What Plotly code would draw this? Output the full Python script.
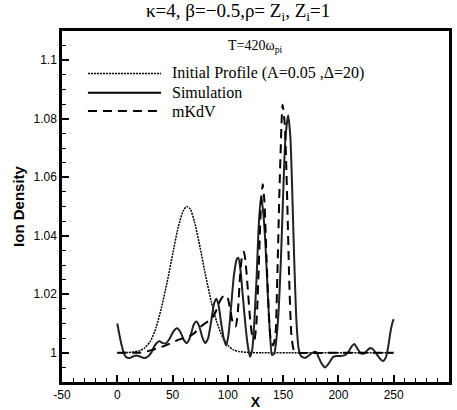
import plotly.graph_objects as go

# ---- data ----
init_x = [0, 10, 15, 20, 25, 30, 35, 40, 45, 50, 55, 60, 63, 66, 70, 75, 80, 85, 90, 95,
          100, 105, 110, 120, 130, 250]
init_y = [1.0000, 1.0001, 1.0003, 1.0007, 1.0017, 1.0040, 1.0085, 1.0155, 1.0240, 1.0335,
          1.0428, 1.0488, 1.0500, 1.0492, 1.0445, 1.0358, 1.0262, 1.0175, 1.0105, 1.0055,
          1.0025, 1.0010, 1.0004, 1.0001, 1.0000, 1.0000]

sim_x = [0, 2, 4, 6, 8, 11, 14, 17, 20, 23, 25, 28, 31, 34, 38, 41, 44, 47, 51, 54, 57, 60,
         63, 66, 69, 71.5, 74, 77, 79.5, 82, 85, 87.5, 89.5, 91.5, 94, 96.5, 98.5, 100.5,
         103, 105.5, 108, 109.5, 111.5, 113.5, 116, 118, 120, 122, 124, 126, 128, 130, 132,
         134, 136, 138, 140, 142, 144, 146, 148, 150, 152, 154.5, 156.5, 158, 160, 162, 164,
         166, 168, 170.5, 174, 178, 180, 182, 185, 188, 191, 195, 198, 202, 206, 209, 212,
         214.5, 217, 220, 223, 226, 229, 232, 235, 238, 240.5, 243, 245, 247, 249, 250]
sim_y = [1.0100, 1.0060, 1.0025, 0.9998, 0.9985, 0.9982, 0.9987, 0.9991, 0.9988, 0.9983,
         0.9982, 0.9988, 1.0002, 1.0025, 1.0039, 1.0033, 1.0032, 1.0046, 1.0074, 1.0084,
         1.0072, 1.0045, 1.0033, 1.0055, 1.0095, 1.0107, 1.0092, 1.0052, 1.0033, 1.0048,
         1.0110, 1.0168, 1.0185, 1.0165, 1.0100, 1.0045, 1.0025, 1.0060, 1.0160, 1.0265,
         1.0320, 1.0325, 1.0280, 1.0195, 1.0090, 1.0025, 0.9986, 1.0010, 1.0110, 1.0260,
         1.0440, 1.0535, 1.0480, 1.0370, 1.0210, 1.0070, 0.9992, 0.9998, 1.0050, 1.0150,
         1.0320, 1.0540, 1.0730, 1.0812, 1.0740, 1.0580, 1.0320, 1.0110, 1.0015, 0.9990,
         0.9984, 0.9983, 0.9993, 1.0003, 1.0002, 0.9985, 0.9962, 0.9950, 0.9962, 0.9985,
         0.9989, 0.9989, 0.9992, 1.0003, 1.0022, 1.0030, 1.0015, 0.9999, 0.9997, 1.0008,
         1.0016, 1.0009, 0.9993, 0.9978, 0.9972, 0.9985, 1.0020, 1.0070, 1.0105, 1.0115]

mkdv_x = [0, 10, 20, 25, 30, 35, 40, 45, 50, 55, 60, 65, 70, 75, 80, 85, 89, 92, 95, 97.5,
          100, 102.5, 105, 107, 109, 111, 113, 114.5, 116, 118, 120, 122, 124, 126, 128, 130,
          131.5, 133, 135, 137, 139, 141, 143, 145, 147, 149.5, 151.5, 153.5, 155.5, 157.5,
          160, 163, 200, 250]
mkdv_y = [1.0000, 1.0000, 1.0000, 1.0003, 1.0008, 1.0014, 1.0020, 1.0027, 1.0036, 1.0044,
          1.0050, 1.0056, 1.0068, 1.0088, 1.0102, 1.0115, 1.0140, 1.0170, 1.0190, 1.0198,
          1.0185, 1.0140, 1.0095, 1.0090, 1.0140, 1.0260, 1.0335, 1.0345, 1.0310, 1.0220,
          1.0120, 1.0060, 1.0045, 1.0110, 1.0300, 1.0510, 1.0576, 1.0520, 1.0320, 1.0140,
          1.0040, 1.0025, 1.0060, 1.0300, 1.0600, 1.0848, 1.0780, 1.0550, 1.0250, 1.0060,
          1.0005, 1.0000, 1.0000, 1.0000]

x_tick_vals = [-50, 0, 50, 100, 150, 200, 250, 300]
x_tick_text = ["-50", "0", "50", "100", "150", "200", "250", "300"]
y_tick_vals = [1.0, 1.02, 1.04, 1.06, 1.08, 1.1]
y_tick_text = ["1", "1.02", "1.04", "1.06", "1.08", "1.1"]

legend_names = ["Initial Profile (A=0.05 ,Δ=20)", "Simulation", "mKdV"]
title_text = "κ=4, β=−0.5,ρ= Z<sub>i</sub>, Z<sub>i</sub>=1"
time_text = "T=420ω<sub>pi</sub>"
x_title = "X"
y_title = "Ion Density"

# ---- styles ----
SERIF = "Liberation Serif"
SANS = "Liberation Sans"
styles = [
    dict(color="black", width=1.5, dash="2px,1px"),
    dict(color="#222222", width=2.0, dash="solid"),
    dict(color="black", width=2.0, dash="9px,6px"),
]

fig = go.Figure()
series = [(init_x, init_y), (sim_x, sim_y), (mkdv_x, mkdv_y)]
for (xs, ys), name, st in zip(series, legend_names, styles):
    fig.add_trace(go.Scatter(x=xs, y=ys, mode="lines", name=name,
                             line=dict(shape="spline", smoothing=0.6, **st),
                             showlegend=False))

# manual legend (long line samples like the reference)
leg_y = [0.879, 0.824, 0.772]
for name, st, yy in zip(legend_names, styles, leg_y):
    fig.add_shape(type="line", xref="paper", yref="paper", x0=0.067, x1=0.256,
                  y0=yy, y1=yy, line=dict(color="black", width=st["width"], dash=st["dash"]))
    fig.add_annotation(xref="paper", yref="paper", x=0.278, y=yy, text=name,
                       showarrow=False, xanchor="left", yanchor="middle",
                       font=dict(family=SERIF, size=16, color="black"))

fig.add_annotation(xref="paper", yref="paper", x=0.455, y=1.054, text=title_text,
                   showarrow=False, xanchor="center", yanchor="middle",
                   font=dict(family=SERIF, size=19, color="black"))
fig.add_annotation(xref="paper", yref="paper", x=0.5, y=0.955, text=time_text,
                   showarrow=False, xanchor="center", yanchor="middle",
                   font=dict(family=SERIF, size=14, color="black"))

axis_common = dict(showline=True, linecolor="black", linewidth=2.5, mirror=True,
                   ticks="inside", ticklen=7, tickwidth=1.5, tickcolor="black",
                   showgrid=False, zeroline=False, automargin=False,
                   tickfont=dict(family=SANS, size=12, color="black"))

fig.update_xaxes(range=[-50, 300], tickmode="array", tickvals=x_tick_vals,
                 ticktext=x_tick_text,
                 minor=dict(ticks="inside", ticklen=4, tickwidth=1.2, tickcolor="black",
                            dtick=10, tick0=0, showgrid=False),
                 title=dict(text="<b>" + x_title + "</b>", standoff=0,
                            font=dict(family=SANS, size=14, color="black")),
                 **axis_common)
fig.update_yaxes(range=[0.99, 1.11], tickmode="array", tickvals=y_tick_vals,
                 ticktext=y_tick_text,
                 minor=dict(ticks="inside", ticklen=4, tickwidth=1.2, tickcolor="black",
                            dtick=0.005, tick0=1.0, showgrid=False),
                 title=dict(text="<b>" + y_title + "</b>", standoff=6,
                            font=dict(family=SANS, size=15, color="black")),
                 **axis_common)

fig.update_layout(width=457, height=410,
                  margin=dict(l=62, r=8, t=31, b=28),
                  paper_bgcolor="white", plot_bgcolor="white",
                  showlegend=False)

# remove the default page margin so the figure fills the window exactly
fig.write_html("out.html", config={"displayModeBar": False},
               post_script="document.body.style.margin='0px';")
